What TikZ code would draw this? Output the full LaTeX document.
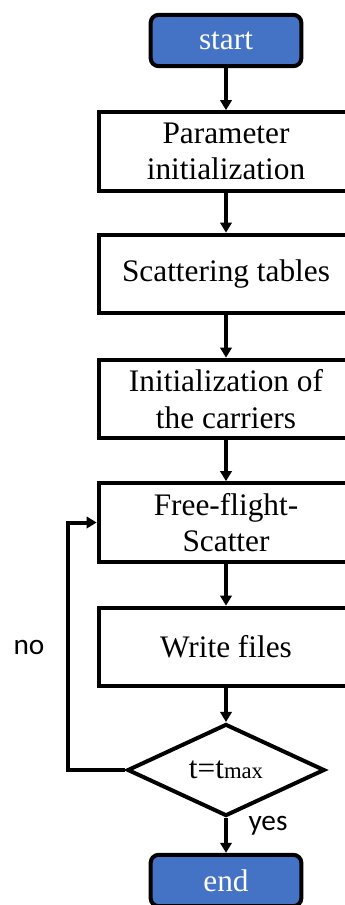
\documentclass[tikz,border=0pt]{standalone}
\usepackage{fontspec}
\setmainfont{Liberation Serif}
\newfontfamily\labelfont{Carlito}
\usetikzlibrary{arrows.meta,shapes.geometric}
\definecolor{termblue}{HTML}{4472C4}

\begin{document}
\begin{tikzpicture}[
  x=0.75pt, y=-0.75pt,
  every node/.style={font=\fontsize{23.5}{27.5}\selectfont, align=center, line width=3pt},
  procbox/.style={draw, rectangle, minimum width=191pt, minimum height=59pt, inner sep=0pt},
  termbox/.style={draw, rectangle, rounded corners=6pt, fill=termblue, text=white,
                  minimum width=113pt, minimum height=38.5pt, inner sep=0pt},
  decbox/.style={draw, diamond, minimum width=148pt, minimum height=57pt, inner sep=0pt},
  edge/.style={-{Triangle[length=7.5pt, width=8.5pt]}, line width=3pt},
  answer/.style={font=\labelfont\fontsize{22}{26}\selectfont}
]
\useasboundingbox (0,0) rectangle (345,905);

% ---------- main flow ----------
\node[termbox] (start) at (226,40.5)  {start};
\node[procbox] (param) at (226,151.5) {Parameter\\initialization};
\node[procbox] (table) at (226,274)   {Scattering tables};
\node[procbox] (carry) at (226,399)   {Initialization of\\the carriers};
\node[procbox] (fly)   at (226,522.5) {Free-flight-\\Scatter};
\node[procbox] (write) at (226,647)   {Write files};
\node[decbox]  (check) at (226,770)   {t=t{\fontsize{17}{20}\selectfont max}};
\node[termbox] (stop)  at (226,880.5) {end};

\draw[edge] (start) -- (param);
\draw[edge] (param) -- (table);
\draw[edge] (table) -- (carry);
\draw[edge] (carry) -- (fly);
\draw[edge] (fly)   -- (write);
\draw[edge] (write) -- (check);
\draw[edge] (check) -- (stop);

% ---------- loop back ----------
\coordinate (back) at (68,770);
\draw[edge] (check.west) -- (back) |- (fly.west);

\node[answer] (no)  at (29,647)  {no};
\node[answer] (yes) at (268,826) {yes};

\end{tikzpicture}
\end{document}
